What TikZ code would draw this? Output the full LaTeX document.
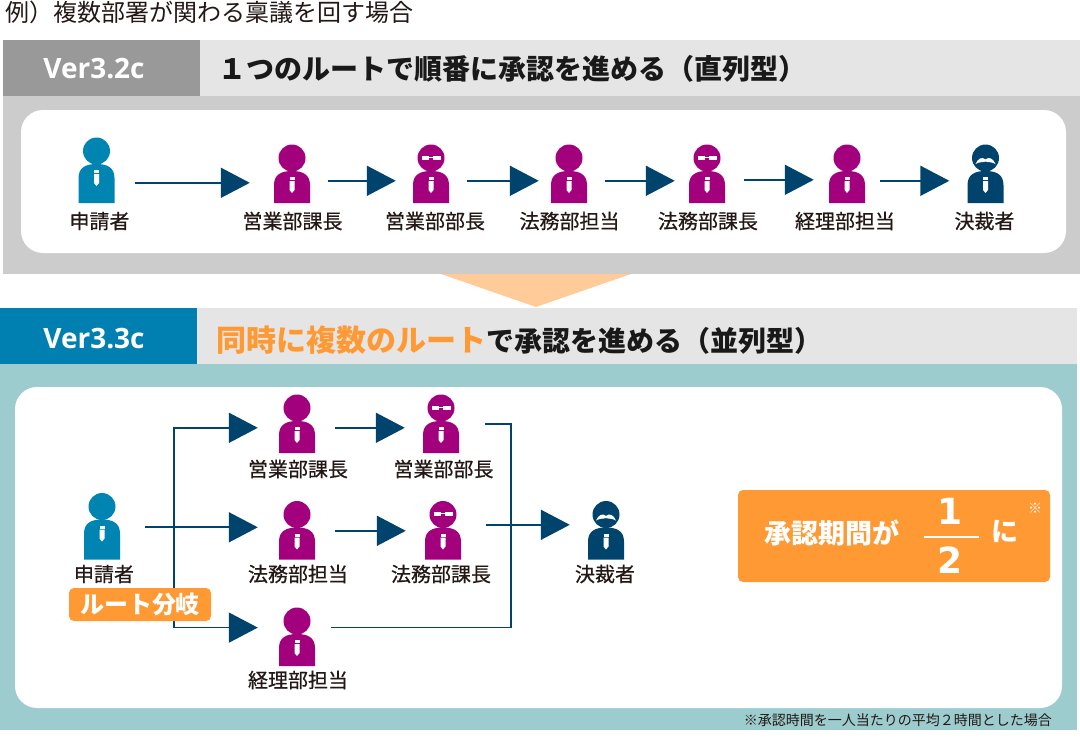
\documentclass[tikz,border=0pt]{standalone}
\usepackage{fontspec}
\setmainfont{Noto Sans CJK JP}
\newfontfamily\verfont{Open Sans}
\newfontfamily\digitfont{DejaVu Sans}
\newfontfamily\medfont[FakeBold=0.6]{Noto Sans CJK JP}
\usetikzlibrary{arrows.meta}
\definecolor{reqblue}{HTML}{0085B2}
\definecolor{stepmag}{HTML}{A3007D}
\definecolor{navy}{HTML}{00446E}
\definecolor{teal}{HTML}{9CCCCE}
\definecolor{verblue}{HTML}{0080B0}
\definecolor{accent}{HTML}{FF9933}
\definecolor{ink}{HTML}{231815}
\tikzset{
	x=1pt,y=-1pt,
	person/.style={minimum width=72pt,minimum height=44pt,inner sep=0pt,anchor=south},
	namelabel/.style={font=\medfont\fontsize{20}{20}\selectfont,text=ink,inner sep=0pt},
	vertag/.style={font=\verfont\bfseries\fontsize{28}{28}\selectfont,text=white,inner sep=0pt},
	headline/.style={font=\bfseries\fontsize{28}{28}\selectfont,text=black!90,inner sep=0pt,anchor=west},
	link/.style={navy,line width=1.7pt},
	flow/.style={link,-{Triangle[length=29pt,width=30pt]}},
	pics/figure/.style n args={2}{code={
			\fill[#1] (0,{-(#2+13)}) circle (13.5);
			\fill[#1] (-18,0) -- (-18,{-(#2-14)}) .. controls (-18,{-(#2-3)}) and (-10,-#2) .. (0,-#2)
				.. controls (10,-#2) and (18,{-(#2-3)}) .. (18,{-(#2-14)}) -- (18,0) -- cycle;
			\fill[white] (-2.5,{-(#2-6)}) rectangle (2.5,{-(#2-9)});
			\fill[white] (-2.5,{-(#2-10)}) -- (2.5,{-(#2-10)}) -- (2.5,{-(#2-19)}) -- (0,{-(#2-22)}) -- (-2.5,{-(#2-19)}) -- cycle;
		}},
	pics/glasses/.style={code={
			\fill[white] (-9.5,-47.5) rectangle (-2,-43.5);
			\fill[white] (2,-47.5) rectangle (9.5,-43.5);
			\fill[white] (-2,-46.2) rectangle (2,-45.2);
		}},
	pics/moustache/.style={code={
			\fill[white] (-10,-39) .. controls (-7.5,-45) and (-3,-46.5) .. (0,-43.5)
				.. controls (3,-46.5) and (7.5,-45) .. (10,-39)
				.. controls (6,-41.5) and (2,-40.5) .. (0,-41.5)
				.. controls (-2,-40.5) and (-6,-41.5) .. (-10,-39) -- cycle;
		}},
}
\begin{document}
\begin{tikzpicture}
	\useasboundingbox (0,0) rectangle (1080,740);
	\node[font=\fontsize{24}{24}\selectfont,text=ink,inner sep=0pt,anchor=west] (caption) at (5,12) {例）複数部署が関わる稟議を回す場合};

	% upper panel
	\fill[black!20] (3,96) rectangle (1080,274);
	\fill[black!10] (200,40) rectangle (1080,96);
	\fill[black!40] (3,40) rectangle (200,96);
	\fill[white,rounded corners=22] (21,110) rectangle (1066,253);
	\node[vertag] (oldver) at (94,69) {Ver3.2c};
	\node[headline] (oldtitle) at (218,69) {１つのルートで順番に承認を進める（直列型）};
	\fill[accent!50] (441,274) -- (631,274) -- (536,307) -- cycle;

	\foreach \name/\x/\lx/\col/\h/\txt in {p1/96.5/99.5/reqblue/39/申請者,p2/292/292.5/stepmag/32/営業部課長,p3/431/435/stepmag/32/営業部部長,p4/569/569.5/stepmag/32/法務部担当,p5/707/708/stepmag/32/法務部課長,p6/847/845/stepmag/32/経理部担当,p7/985.5/984.5/navy/32/決裁者} {
			\node[person] (\name) at (\x,203) {};
			\pic at (\x,203) {figure={\col}{\h}};
			\node[namelabel] (\name l) at (\lx,221) {\txt};
		}
	\pic at (431,203) {glasses};
	\pic at (707,203) {glasses};
	\pic at (985.5,203) {moustache};

	\foreach \a/\b/\s/\e/\d in {p1/p2/2/6/-2,p2/p3/0/-1/0,p3/p4/0/-6/0,p4/p5/0/-4/0,p5/p6/1/-3/1,p6/p7/-3/0/0} {
			\draw[flow,shorten <=\s pt,shorten >=\e pt] ([yshift=\d pt]\a.east) -- ([yshift=\d pt]\b.west);
		}

	% lower panel
	\fill[teal] (0,364) rectangle (1077,730);
	\fill[black!10] (197,308) rectangle (1077,364);
	\fill[verblue] (0,308) rectangle (197,364);
	\fill[white,rounded corners=22] (15,387) rectangle (1062,708);
	\node[vertag] (newver) at (94,339) {Ver3.3c};
	\node[headline] (newtitle) at (216,340) {{\color{accent}\fontsize{30}{30}\selectfont 同時に複数のルート}で承認を進める（並列型）};

	\foreach \name/\x/\lx/\y/\col/\h/\ly/\txt in {a0/102/104/559.5/reqblue/40/574/申請者,b1/297/298/453/stepmag/32/469/営業部課長,c1/441/443.5/453/stepmag/32/469/営業部部長,b2/297/298/559.5/stepmag/32/574/法務部担当,c2/443/441/559.5/stepmag/32/574/法務部課長,b3/297/298/666/stepmag/32/680/経理部担当,d0/606/605/559.5/navy/32/574/決裁者} {
			\node[person] (\name) at (\x,\y) {};
			\pic at (\x,\y) {figure={\col}{\h}};
			\node[namelabel] (\name l) at (\lx,\ly) {\txt};
		}
	\pic at (441,453) {glasses};
	\pic at (443,559.5) {glasses};
	\pic at (606,559.5) {moustache};

	\coordinate (split) at (174,527.5);
	\coordinate (merge) at (511,525);
	\draw[flow,shorten <=7pt,shorten >=3pt] ([yshift=10pt]a0.east) -- ([yshift=10pt]b2.west);
	\draw[flow,shorten >=3pt] (split) |- ([yshift=3pt]b1.west);
	\draw[flow,shorten >=3pt] (split) |- ([yshift=-6pt]b3.west |- b3.north);
	\draw[flow,shorten <=2pt,shorten >=0pt] ([yshift=3pt]b1.east) -- ([yshift=3pt]c1.west);
	\draw[flow,shorten <=2pt,shorten >=1pt] ([yshift=6.5pt]b2.east) -- ([yshift=6.5pt]c2.west);
	\draw[link] ([yshift=7pt,xshift=8pt]c1.east) -| (merge);
	\draw[link,shorten >=-2pt] (merge) |- ([yshift=-6pt]b3.east |- b3.north);
	\draw[flow,shorten <=7pt] ([yshift=12.5pt]c2.east) -- ([yshift=12.5pt]d0.west);

	\node[fill=accent,rounded corners=5,text=white,minimum width=142pt,minimum height=33pt,inner sep=0pt,font=\bfseries\fontsize{24}{24}\selectfont] (branch) at (140,604.5) {ルート分岐};

	% result box
	\fill[accent,rounded corners=5] (738,490) rectangle (1050,582);
	\tikzset{resulttext/.style={text=white,inner sep=0pt,font=\bfseries\fontsize{27}{27}\selectfont}}
	\node[resulttext] (period) at (832,533) {承認期間が};
	\node[resulttext,font=\digitfont\bfseries\fontsize{36}{36}\selectfont] (one) at (950,511) {1};
	\node[resulttext,font=\digitfont\bfseries\fontsize{36}{36}\selectfont] (two) at (950,560) {2};
	\node[resulttext] (ni) at (1005,532) {に};
	\node[text=white,inner sep=0pt,font=\bfseries\fontsize{14}{14}\selectfont] (mark) at (1035,508) {※};
	\coordinate (barl) at (924,537);
	\coordinate (barr) at (979,537);
	\draw[white,line width=1.5pt] (barl) -- (barr);
	\node[text=ink,inner sep=0pt,anchor=east,font=\fontsize{14}{14}\selectfont] (note) at (1052,720) {※承認時間を一人当たりの平均２時間とした場合};
\end{tikzpicture}
\end{document}
